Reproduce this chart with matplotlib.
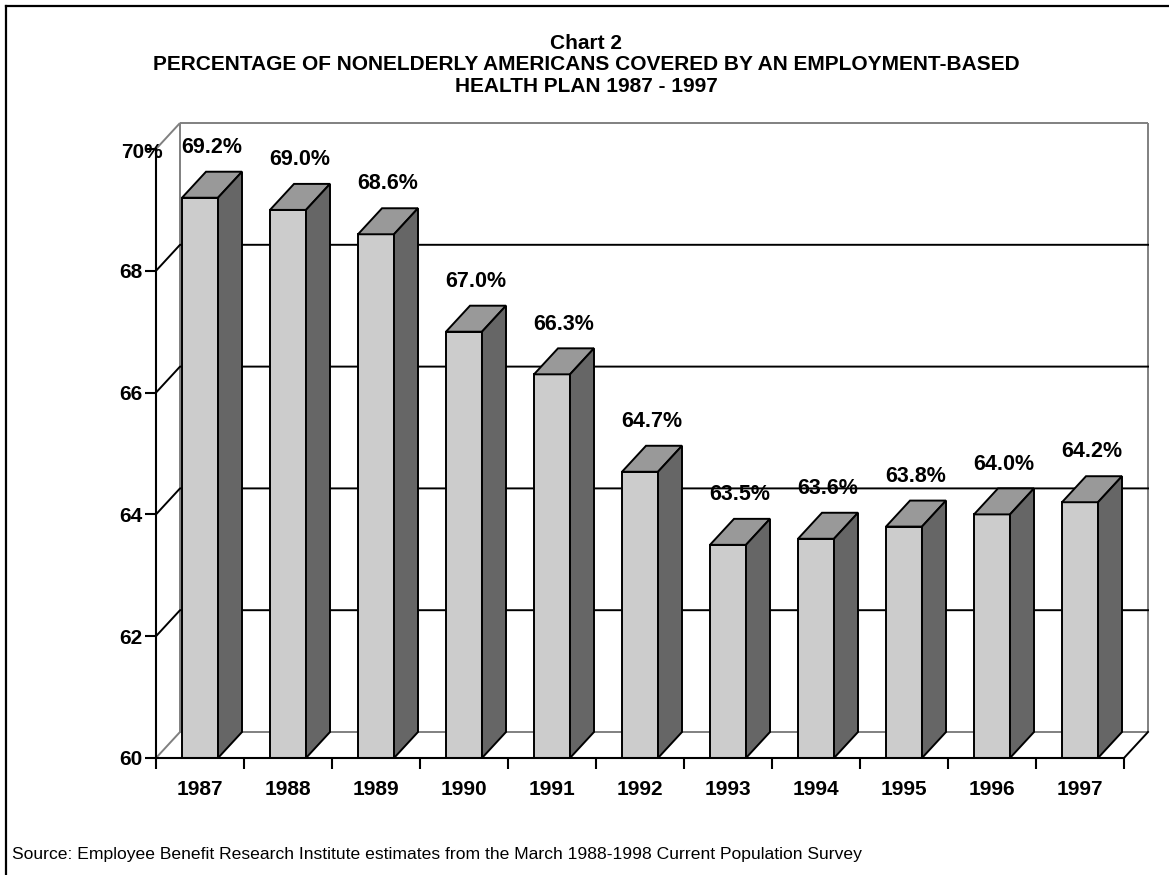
import matplotlib

matplotlib.use("Agg")
import matplotlib.pyplot as plt
from matplotlib.lines import Line2D
from matplotlib.patches import Polygon, Rectangle

years = ["1987", "1988", "1989", "1990", "1991", "1992", "1993", "1994", "1995", "1996", "1997"]
coverage = [69.2, 69.0, 68.6, 67.0, 66.3, 64.7, 63.5, 63.6, 63.8, 64.0, 64.2]
y_ticks = [60, 62, 64, 66, 68, 70]
y_labels = ["60", "62", "64", "66", "68", ""]

plt.rcParams.update({"font.family": ["Liberation Sans", "DejaVu Sans"]})

W, H = 1169, 875
fig = plt.figure(figsize=(W / 100, H / 100), dpi=100)
fig.patch.set_facecolor("white")

# plot area in pixels: x 156..1124, y(60)=758, y(70)=149
ax = fig.add_axes([156 / W, (H - 758) / H, 968 / W, 609 / H])
ymin, ymax = 60, 70
n = len(years)
ax.set_xlim(0, n)
ax.set_ylim(ymin, ymax)
ax.set_facecolor("none")

# 3-D depth offsets in data units (24 px right, 26 px up)
dx = 24 / 88
dy = 26 / 60.9
bw = 36 / 88

c_front = "#CCCCCC"
c_top = "#999999"
c_side = "#666666"
c_wall = "#808080"
lw = 1.4

# back wall, floor and left wall
wall_kw = dict(color=c_wall, lw=lw, clip_on=False, zorder=1, solid_capstyle="butt")
ax.plot([dx, n + dx], [ymax + dy, ymax + dy], **wall_kw)
ax.plot([dx, n + dx], [ymin + dy, ymin + dy], **wall_kw)
ax.plot([dx, dx], [ymin + dy, ymax + dy], **wall_kw)
ax.plot([n + dx, n + dx], [ymin + dy, ymax + dy], **wall_kw)
ax.plot([0, dx], [ymax, ymax + dy], **wall_kw)
ax.plot([0, dx], [ymin, ymin + dy], **wall_kw)
ax.plot([n, n + dx], [ymin, ymin + dy], color="black", lw=lw, clip_on=False, zorder=1)
for t in y_ticks[1:-1]:
    ax.plot([0, dx, n + dx], [t, t + dy, t + dy], color="black", lw=lw,
            clip_on=False, zorder=1)

# bars
for i, v in enumerate(coverage):
    x0 = i + 0.5 - bw / 2
    x1 = x0 + bw
    ax.add_patch(Rectangle((x0, ymin), bw, v - ymin, facecolor=c_front,
                           edgecolor="black", lw=lw, zorder=3, clip_on=False))
    ax.add_patch(Polygon([(x0, v), (x1, v), (x1 + dx, v + dy), (x0 + dx, v + dy)],
                         closed=True, facecolor=c_top, edgecolor="black", lw=lw,
                         zorder=3, clip_on=False, joinstyle="miter"))
    ax.add_patch(Polygon([(x1, ymin), (x1 + dx, ymin + dy), (x1 + dx, v + dy), (x1, v)],
                         closed=True, facecolor=c_side, edgecolor="black", lw=lw,
                         zorder=3, clip_on=False, joinstyle="miter"))
    ax.annotate(f"{v:.1f}%", (i + 0.5 + dx / 2, v + dy), xytext=(0, 17.5),
                textcoords="offset points", ha="center", va="center",
                fontsize=15.5, fontweight="bold", zorder=4, annotation_clip=False)

# axes
for s in ["top", "right"]:
    ax.spines[s].set_visible(False)
for s in ["left", "bottom"]:
    ax.spines[s].set_linewidth(1.5)
    ax.spines[s].set_zorder(5)

ax.set_yticks(y_ticks)
ax.set_yticklabels(y_labels, fontsize=15, fontweight="bold")
ax.tick_params(axis="y", length=8, width=1.5, pad=1.5, direction="out")
ax.text(7 / 88, ymax - 0.05, "70%", ha="right", va="center",
        fontsize=15, fontweight="bold")

ax.set_xticks([i + 0.5 for i in range(n)])
ax.set_xticklabels(years, fontsize=15, fontweight="bold")
ax.set_xticks(list(range(n + 1)), minor=True)
ax.tick_params(axis="x", which="major", length=0, pad=15.5)
ax.tick_params(axis="x", which="minor", length=8, width=1.5, direction="out")

fig.text(586 / W, 1 - 65 / H,
         "Chart 2\nPERCENTAGE OF NONELDERLY AMERICANS COVERED BY AN EMPLOYMENT-BASED\n"
         "HEALTH PLAN 1987 - 1997",
         ha="center", va="center", fontsize=15, fontweight="bold", linespacing=1.15)

fig.text(12 / W, 1 - 855 / H,
         "Source: Employee Benefit Research Institute estimates from the March "
         "1988-1998 Current Population Survey",
         ha="left", va="center", fontsize=12.6)

# outer frame (top and left edges)
fig.add_artist(Line2D([6 / W, 1], [1 - 6 / H, 1 - 6 / H], color="black", lw=1.6))
fig.add_artist(Line2D([6 / W, 6 / W], [0, 1 - 6 / H], color="black", lw=1.6))

fig.savefig("out.png", dpi=100, facecolor="white")
